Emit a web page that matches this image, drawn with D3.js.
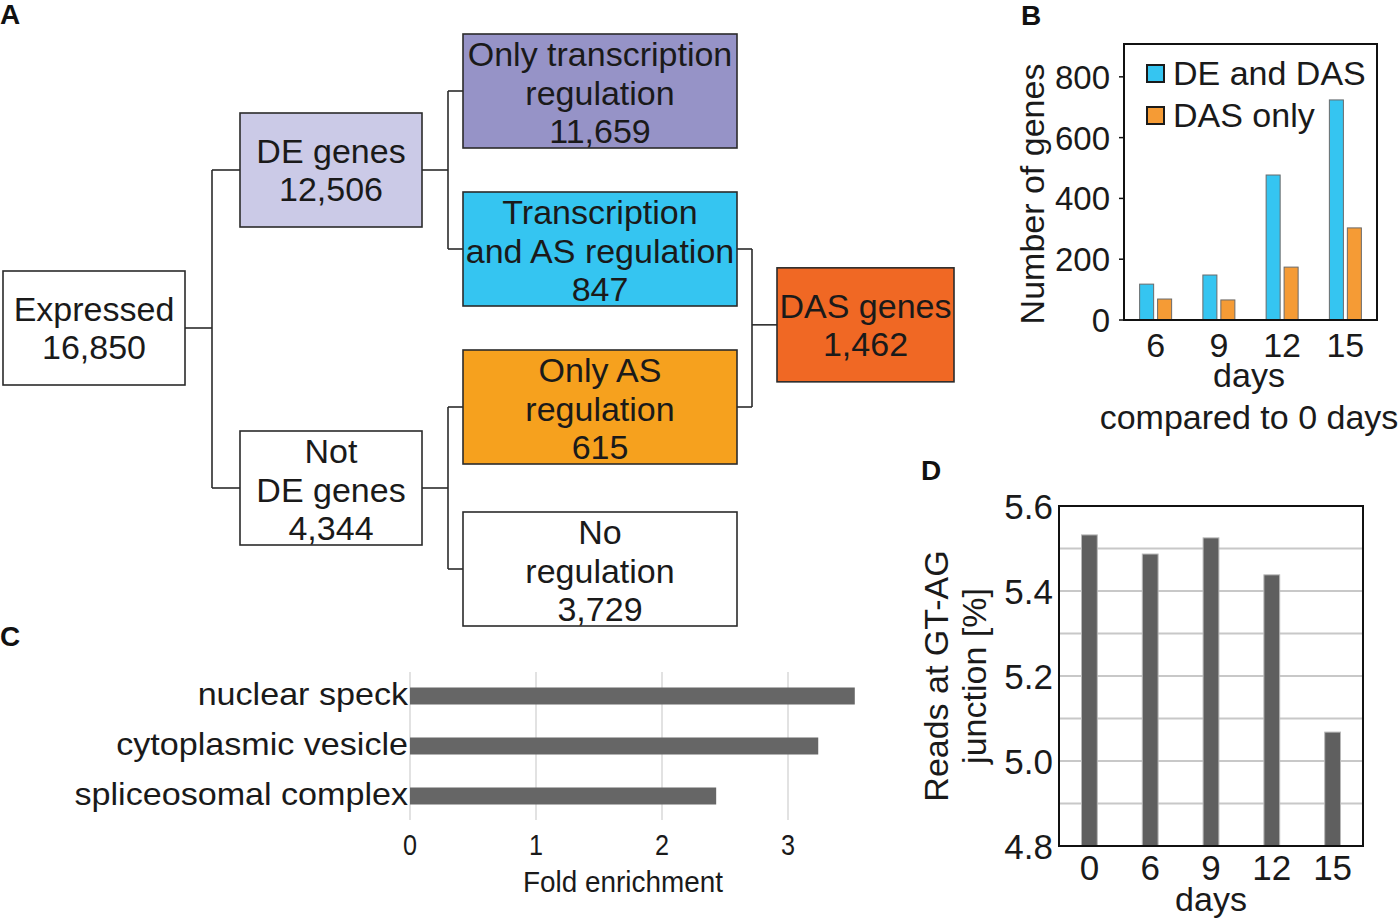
<!DOCTYPE html>
<html>
<head>
<meta charset="utf-8">
<script src="https://cdn.jsdelivr.net/npm/d3@7"></script>
<style>
  html, body { margin: 0; padding: 0; background: #fff; }
  svg { display: block; font-family: "Liberation Sans", Arial, sans-serif; }
</style>
</head>
<body>
<svg id="chart" width="1400" height="919"></svg>
<script>
// ---------------- DATA ----------------
// Panel A: gene classification tree
const treeNodeIds    = ["expr", "de", "notde", "onlyT", "transAS", "onlyAS", "noReg", "das"];
const treeNodeLabels = [
  ["Expressed", "16,850"],
  ["DE genes", "12,506"],
  ["Not", "DE genes", "4,344"],
  ["Only transcription", "regulation", "11,659"],
  ["Transcription", "and AS regulation", "847"],
  ["Only AS", "regulation", "615"],
  ["No", "regulation", "3,729"],
  ["DAS genes", "1,462"]
];
const treeNodeLevels = [0, 1, 1, 2, 2, 2, 2, 3];
const treeNodeFills  = ["#ffffff", "#cbcae7", "#ffffff", "#9693c7", "#35c5f1", "#f6a11e", "#ffffff", "#f06824"];
// split edges (parent -> children) and merge edge (children -> node)
const treeSplits = [["expr", ["de", "notde"]], ["de", ["onlyT", "transAS"]], ["notde", ["onlyAS", "noReg"]]];
const treeMerges = [[["transAS", "onlyAS"], "das"]];

// Panel B
const bDays      = ["6", "9", "12", "15"];
const bSeries    = ["DE and DAS", "DAS only"];
const bDEandDAS  = [118, 148, 477, 724];
const bDASonly   = [69, 66, 174, 303];
const bTicks     = [0, 200, 400, 600, 800];

// Panel C
const cTerms = ["nuclear speck", "cytoplasmic vesicle", "spliceosomal complex"];
const cFold  = [3.53, 3.24, 2.43];
const cTicks = [0, 1, 2, 3];

// Panel D
const dDays   = ["0", "6", "9", "12", "15"];
const dGTAG   = [5.532, 5.487, 5.525, 5.438, 5.068];
const dTicks  = [4.8, 5.0, 5.2, 5.4, 5.6];
const dGrid   = [4.9, 5.0, 5.1, 5.2, 5.3, 5.4, 5.5];

// ---------------- DRAW ----------------
const svg = d3.select("#chart");

function panelLabel(t, x, y) {
  svg.append("text").attr("x", x).attr("y", y).text(t)
    .attr("font-size", 28).attr("font-weight", "bold").attr("fill", "#111");
}

// ===== Panel A =====
panelLabel("A", 0, 24);
const gA = svg.append("g");
const colX = d3.scaleOrdinal().domain([0, 1, 2, 3]).range([3, 240, 463, 777]);
const colW = d3.scaleOrdinal().domain([0, 1, 2, 3]).range([182, 182, 274, 177]);
const rowY = d3.scaleLinear().domain([0, 1, 2, 3]).range([91, 249, 407, 569]);
const boxH = 114;
const junctionX = { 0: 212, 1: 448, 2: 752 };

const nodes = treeNodeIds.map((id, i) => ({ id, lines: treeNodeLabels[i], level: treeNodeLevels[i], fill: treeNodeFills[i] }));
const byId = Object.fromEntries(nodes.map(n => [n.id, n]));
nodes.filter(n => n.level === 2).forEach((n, i) => n.slot = i);
[["de", ["onlyT", "transAS"]], ["notde", ["onlyAS", "noReg"]], ["expr", ["de", "notde"]]].forEach(([p, ch]) => {
  byId[p].slot = d3.mean(ch, c => byId[c].slot);
});
treeMerges.forEach(([ch, t]) => { byId[t].slot = d3.mean(ch, c => byId[c].slot) - 0.02; });
nodes.forEach(n => {
  n.x = colX(n.level); n.w = colW(n.level);
  n.cy = rowY(n.slot); n.y = n.cy - boxH / 2;
});

const lineStroke = "#2b2b2b";
treeSplits.forEach(([p, ch]) => {
  const P = byId[p], jx = junctionX[P.level];
  const C = ch.map(c => byId[c]);
  gA.append("line").attr("x1", P.x + P.w).attr("x2", jx).attr("y1", P.cy).attr("y2", P.cy);
  gA.append("line").attr("x1", jx).attr("x2", jx).attr("y1", d3.min(C, c => c.cy)).attr("y2", d3.max(C, c => c.cy));
  C.forEach(c => gA.append("line").attr("x1", jx).attr("x2", c.x).attr("y1", c.cy).attr("y2", c.cy));
});
treeMerges.forEach(([ch, t]) => {
  const T = byId[t];
  const C = ch.map(c => byId[c]);
  const jx = junctionX[C[0].level];
  C.forEach(c => gA.append("line").attr("x1", c.x + c.w).attr("x2", jx).attr("y1", c.cy).attr("y2", c.cy));
  gA.append("line").attr("x1", jx).attr("x2", jx).attr("y1", d3.min(C, c => c.cy)).attr("y2", d3.max(C, c => c.cy));
  gA.append("line").attr("x1", jx).attr("x2", T.x).attr("y1", T.cy).attr("y2", T.cy);
});
gA.selectAll("line").attr("stroke", lineStroke).attr("stroke-width", 1.6);

const boxG = gA.selectAll("g.node").data(nodes).join("g").attr("class", "node");
boxG.append("rect")
  .attr("x", d => d.x).attr("y", d => d.y).attr("width", d => d.w).attr("height", boxH)
  .attr("fill", d => d.fill).attr("stroke", "#2b2b2b").attr("stroke-width", 1.6);
boxG.each(function (d) {
  const n = d.lines.length, lh = 38.5;
  const off = n === 3 ? 13.5 : 12;
  d3.select(this).selectAll("text").data(d.lines).join("text")
    .attr("x", d.x + d.w / 2)
    .attr("y", (t, i) => d.cy + (i - (n - 1) / 2) * lh + off)
    .attr("text-anchor", "middle").attr("font-size", 34).attr("fill", "#1a1a1a")
    .text(t => t);
});

// ===== Panel B =====
panelLabel("B", 1021, 25);
const gB = svg.append("g");
const bL = 1124, bR = 1377, bT = 44, bB = 320;
const xB = d3.scaleBand().domain(bDays).range([bL, bR]);
const xBi = d3.scaleBand().domain(bSeries).range([0, 32]).paddingInner(0.22);
const yB = d3.scaleLinear().domain([0, 908]).range([bB, bT]);
const colB = d3.scaleOrdinal().domain(bSeries).range(["#35c5f1", "#f59b35"]);
const bRows = bDays.map((d, i) => ({ day: d, vals: [bDEandDAS[i], bDASonly[i]] }));
bRows.forEach(r => {
  const gx = xB(r.day) + xB.bandwidth() / 2 - 16;
  bSeries.forEach((s, j) => {
    gB.append("rect")
      .attr("x", gx + xBi(s)).attr("width", xBi.bandwidth())
      .attr("y", yB(r.vals[j])).attr("height", yB(0) - yB(r.vals[j]))
      .attr("fill", colB(s)).attr("stroke", "#6a6a6a").attr("stroke-width", 1);
  });
});
gB.append("rect").attr("x", bL).attr("y", bT).attr("width", bR - bL).attr("height", bB - bT)
  .attr("fill", "none").attr("stroke", "#111").attr("stroke-width", 2);
bTicks.forEach(t => {
  gB.append("line").attr("x1", bL - 5).attr("x2", bL).attr("y1", yB(t)).attr("y2", yB(t)).attr("stroke", "#111").attr("stroke-width", 1.5);
  gB.append("text").attr("x", bL - 14).attr("y", yB(t) + 12).attr("text-anchor", "end")
    .attr("font-size", 33).attr("fill", "#1a1a1a").text(t);
});
bDays.forEach(d => {
  gB.append("text").attr("x", xB(d) + xB.bandwidth() / 2).attr("y", 357).attr("text-anchor", "middle")
    .attr("font-size", 34).attr("fill", "#1a1a1a").text(d);
});
gB.append("text").attr("x", 1249).attr("y", 387).attr("text-anchor", "middle").attr("font-size", 34).attr("fill", "#1a1a1a").text("days");
gB.append("text").attr("x", 1249).attr("y", 429).attr("text-anchor", "middle").attr("font-size", 34).attr("fill", "#1a1a1a").text("compared to 0 days");
gB.append("text").attr("transform", "translate(1044,194) rotate(-90)").attr("text-anchor", "middle")
  .attr("font-size", 34).attr("fill", "#1a1a1a").text("Number of genes");
bSeries.forEach((s, i) => {
  const ly = 65 + i * 42;
  gB.append("rect").attr("x", 1147).attr("y", ly).attr("width", 17).attr("height", 17)
    .attr("fill", colB(s)).attr("stroke", "#1a1a1a").attr("stroke-width", 2);
  gB.append("text").attr("x", 1173).attr("y", ly + 20).attr("font-size", 34).attr("fill", "#1a1a1a").text(s);
});

// ===== Panel C =====
panelLabel("C", 0, 646);
const gC = svg.append("g");
const xC = d3.scaleLinear().domain([0, 4]).range([410, 914]);
const yC = d3.scaleBand().domain(cTerms).range([671, 821]).paddingInner(0.66).paddingOuter(0.33);
cTicks.forEach(t => {
  gC.append("line").attr("x1", xC(t)).attr("x2", xC(t)).attr("y1", 672).attr("y2", 820)
    .attr("stroke", "#d9d9d9").attr("stroke-width", 1.5);
  gC.append("text").attr("transform", `translate(${xC(t)},855) scale(0.9,1.08)`).attr("text-anchor", "middle")
    .attr("font-size", 28).attr("fill", "#1a1a1a").text(t);
});
cTerms.forEach((t, i) => {
  gC.append("rect").attr("x", xC(0)).attr("y", yC(t)).attr("width", xC(cFold[i]) - xC(0)).attr("height", yC.bandwidth())
    .attr("fill", "#666666");
  gC.append("text").attr("transform", `translate(408,${yC(t) + yC.bandwidth() / 2 + 9}) scale(1.1,1)`)
    .attr("text-anchor", "end").attr("font-size", 31).attr("fill", "#1a1a1a").text(t);
});
gC.append("text").attr("transform", "translate(623,892) scale(0.93,1)").attr("text-anchor", "middle")
  .attr("font-size", 30).attr("fill", "#1a1a1a").text("Fold enrichment");

// ===== Panel D =====
panelLabel("D", 921, 480);
const gD = svg.append("g");
const dL = 1059, dR = 1363, dT = 506, dB = 846;
const xD = d3.scaleBand().domain(dDays).range([dL, dR]).paddingInner(0.74).paddingOuter(0.37);
const yD = d3.scaleLinear().domain([4.8, 5.6]).range([dB, dT]);
dGrid.forEach(t => {
  gD.append("line").attr("x1", dL).attr("x2", dR).attr("y1", yD(t)).attr("y2", yD(t))
    .attr("stroke", "#c8c8c8").attr("stroke-width", 2);
});
dDays.forEach((d, i) => {
  gD.append("rect").attr("x", xD(d)).attr("width", xD.bandwidth())
    .attr("y", yD(dGTAG[i])).attr("height", yD(4.8) - yD(dGTAG[i]))
    .attr("fill", "#5f5f5f").attr("stroke", "#b8b8b8").attr("stroke-width", 1);
  gD.append("text").attr("x", xD(d) + xD.bandwidth() / 2).attr("y", 880).attr("text-anchor", "middle")
    .attr("font-size", 35).attr("fill", "#1a1a1a").text(d);
});
gD.append("rect").attr("x", dL).attr("y", dT).attr("width", dR - dL).attr("height", dB - dT)
  .attr("fill", "none").attr("stroke", "#111").attr("stroke-width", 2);
dTicks.forEach(t => {
  gD.append("text").attr("x", 1053).attr("y", yD(t) + 13).attr("text-anchor", "end")
    .attr("font-size", 35).attr("fill", "#1a1a1a").text(d3.format(".1f")(t));
});
gD.append("text").attr("x", 1211).attr("y", 911).attr("text-anchor", "middle").attr("font-size", 34).attr("fill", "#1a1a1a").text("days");
gD.append("text").attr("transform", "translate(948,676) rotate(-90)").attr("text-anchor", "middle")
  .attr("font-size", 34).attr("fill", "#1a1a1a").text("Reads at GT-AG");
gD.append("text").attr("transform", "translate(986,676) rotate(-90)").attr("text-anchor", "middle")
  .attr("font-size", 34).attr("fill", "#1a1a1a").text("junction [%]");
</script>
</body>
</html>
